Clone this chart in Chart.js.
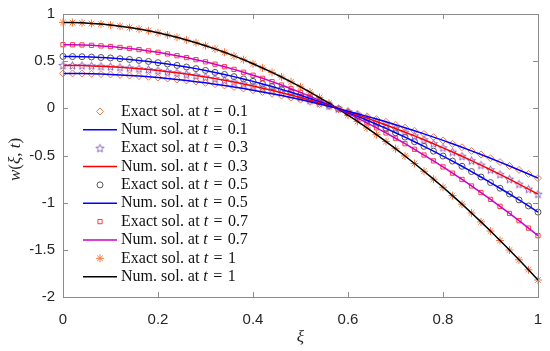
<!DOCTYPE html>
<html>
<head>
<meta charset="utf-8">
<script src="https://cdn.jsdelivr.net/npm/chart.js@4/dist/chart.umd.min.js"></script>
<style>
  html, body { margin: 0; padding: 0; background: #fff; }
  canvas { display: block; }
</style>
</head>
<body>
<canvas id="solChart" width="550" height="351"></canvas>
<script>
// --- data ---
const xi = [0, 0.02, 0.04, 0.06, 0.08, 0.1, 0.12, 0.14, 0.16, 0.18, 0.2, 0.22, 0.24, 0.26, 0.28, 0.3, 0.32, 0.34, 0.36, 0.38,
  0.4, 0.42, 0.44, 0.46, 0.48, 0.5, 0.52, 0.54, 0.56, 0.58, 0.6, 0.62, 0.64, 0.66, 0.68, 0.7, 0.72, 0.74, 0.76, 0.78,
  0.8, 0.82, 0.84, 0.86, 0.88, 0.9, 0.92, 0.94, 0.96, 0.98, 1];

const w_t01 = [0.370, 0.370, 0.368, 0.366, 0.363, 0.359, 0.354, 0.348, 0.342, 0.334, 0.326, 0.316, 0.306, 0.295, 0.283, 0.270, 0.256, 0.242, 0.226, 0.210,
  0.192, 0.174, 0.155, 0.135, 0.114, 0.093, 0.070, 0.046, 0.022, -0.003, -0.030, -0.057, -0.085, -0.114, -0.143, -0.174, -0.205, -0.238, -0.271, -0.305,
  -0.340, -0.376, -0.413, -0.451, -0.490, -0.529, -0.570, -0.611, -0.653, -0.696, -0.740];

const w_t03 = [0.455, 0.454, 0.453, 0.450, 0.446, 0.441, 0.435, 0.428, 0.420, 0.411, 0.400, 0.389, 0.376, 0.363, 0.348, 0.332, 0.315, 0.297, 0.278, 0.258,
  0.237, 0.214, 0.191, 0.166, 0.141, 0.114, 0.086, 0.057, 0.027, -0.004, -0.036, -0.070, -0.104, -0.140, -0.176, -0.214, -0.253, -0.292, -0.333, -0.375,
  -0.419, -0.463, -0.508, -0.555, -0.602, -0.651, -0.700, -0.751, -0.803, -0.856, -0.910];

const w_t05 = [0.550, 0.549, 0.547, 0.544, 0.539, 0.534, 0.526, 0.518, 0.508, 0.497, 0.484, 0.470, 0.455, 0.438, 0.421, 0.402, 0.381, 0.359, 0.336, 0.312,
  0.286, 0.259, 0.231, 0.201, 0.170, 0.138, 0.104, 0.069, 0.033, -0.005, -0.044, -0.084, -0.126, -0.169, -0.213, -0.259, -0.305, -0.354, -0.403, -0.454,
  -0.506, -0.559, -0.614, -0.670, -0.728, -0.787, -0.847, -0.908, -0.971, -1.035, -1.100];

const w_t07 = [0.675, 0.674, 0.672, 0.668, 0.662, 0.655, 0.646, 0.635, 0.623, 0.609, 0.594, 0.577, 0.558, 0.538, 0.516, 0.493, 0.468, 0.441, 0.413, 0.383,
  0.351, 0.318, 0.283, 0.247, 0.208, 0.169, 0.127, 0.085, 0.040, -0.006, -0.054, -0.103, -0.154, -0.207, -0.261, -0.317, -0.375, -0.434, -0.495, -0.557,
  -0.621, -0.687, -0.754, -0.823, -0.893, -0.965, -1.039, -1.114, -1.191, -1.270, -1.350];

const w_t1 = [0.910, 0.909, 0.906, 0.900, 0.893, 0.883, 0.871, 0.856, 0.840, 0.822, 0.801, 0.778, 0.753, 0.725, 0.696, 0.664, 0.630, 0.594, 0.556, 0.516,
  0.473, 0.428, 0.381, 0.332, 0.281, 0.228, 0.172, 0.114, 0.054, -0.008, -0.073, -0.139, -0.208, -0.279, -0.352, -0.428, -0.505, -0.585, -0.667, -0.751,
  -0.837, -0.926, -1.016, -1.109, -1.204, -1.301, -1.401, -1.502, -1.606, -1.712, -1.820];

const tLabels = ['0.1', '0.3', '0.5', '0.7', '1'];
const seriesValues = [w_t01, w_t03, w_t05, w_t07, w_t1];

const lineColors = ['#0000ff', '#ff0000', '#0000ff', '#cc00cc', '#000000'];
const markerColors = ['#f0784f', '#8e5fbf', '#555555', '#ff3c3c', '#f77a45'];

// pentagram marker (not built into Chart.js)
function makePentagram(color) {
  const c = document.createElement('canvas');
  c.width = 11; c.height = 11;
  const g = c.getContext('2d');
  g.strokeStyle = color;
  g.lineWidth = 1;
  g.beginPath();
  for (let i = 0; i < 10; i++) {
    const r = i % 2 === 0 ? 4.2 : 1.9;
    const a = -Math.PI / 2 + i * Math.PI / 5;
    const px = 5.5 + r * Math.cos(a), py = 5.8 + r * Math.sin(a);
    if (i === 0) g.moveTo(px, py); else g.lineTo(px, py);
  }
  g.closePath();
  g.stroke();
  return c;
}

const markerStyles = ['rectRot', makePentagram(markerColors[1]), 'circle', 'rect', 'star'];
const markerRadius = [3.5, 3, 3, 3, 4];

const points = arr => arr.map((v, i) => ({ x: xi[i], y: v }));
const fmtTick = v => String(Number(v.toFixed(2)));

const datasets = [];
seriesValues.forEach((vals, k) => {
  datasets.push({
    label: 'Exact sol. at t = ' + tLabels[k],
    data: points(vals),
    showLine: false,
    pointStyle: markerStyles[k],
    pointRadius: markerRadius[k],
    pointBorderWidth: 1,
    pointBorderColor: markerColors[k],
    pointBackgroundColor: 'rgba(0,0,0,0)',
    order: 1,
    clip: false
  });
  datasets.push({
    label: 'Num. sol. at t = ' + tLabels[k],
    data: points(vals),
    showLine: true,
    borderColor: lineColors[k],
    borderWidth: 1.5,
    pointRadius: 0,
    order: 0,
    clip: false
  });
});

// frame + inward ticks like the original
const framePlugin = {
  id: 'frame',
  afterDatasetsDraw(chart) {
    const { ctx, chartArea: a, scales } = chart;
    ctx.save();
    ctx.strokeStyle = '#8c8c8c';
    ctx.lineWidth = 1;
    ctx.strokeRect(a.left + 0.5, a.top + 0.5, a.right - a.left, a.bottom - a.top);
    ctx.beginPath();
    scales.x.ticks.forEach(t => {
      const px = Math.round(scales.x.getPixelForValue(t.value)) + 0.5;
      ctx.moveTo(px, a.bottom); ctx.lineTo(px, a.bottom - 5);
      ctx.moveTo(px, a.top); ctx.lineTo(px, a.top + 5);
    });
    scales.y.ticks.forEach(t => {
      const py = Math.round(scales.y.getPixelForValue(t.value)) + 0.5;
      ctx.moveTo(a.left, py); ctx.lineTo(a.left + 5, py);
      ctx.moveTo(a.right, py); ctx.lineTo(a.right - 5, py);
    });
    ctx.stroke();
    ctx.restore();
  }
};

// axis titles with italic math symbols
const titlePlugin = {
  id: 'titles',
  afterDraw(chart) {
    const { ctx, chartArea: a } = chart;
    ctx.save();
    ctx.fillStyle = '#262626';
    ctx.textBaseline = 'middle';
    ctx.textAlign = 'center';
    ctx.font = 'italic 17px "Liberation Serif"';
    ctx.fillText('ξ', (a.left + a.right) / 2, 338);

    // y title, rotated
    const parts = [['w', true], ['(', false], ['ξ', true], [', ', false], ['t', true], [')', false]];
    const fontFor = it => (it ? 'italic ' : '') + '17px "Liberation Serif"';
    let total = 0;
    parts.forEach(p => { ctx.font = fontFor(p[1]); total += ctx.measureText(p[0]).width; });
    ctx.translate(16, (a.top + a.bottom) / 2 + 4);
    ctx.rotate(-Math.PI / 2);
    ctx.textAlign = 'left';
    let x = -total / 2;
    parts.forEach(p => {
      ctx.font = fontFor(p[1]);
      ctx.fillText(p[0], x, 0);
      x += ctx.measureText(p[0]).width;
    });
    ctx.restore();
  }
};

// legend drawn inside the axes, no box
const legendPlugin = {
  id: 'insideLegend',
  afterDraw(chart) {
    const { ctx } = chart;
    const x0 = 83, x1 = 117, textX = 121, firstY = 111.5, step = 18.35;
    ctx.save();
    ctx.textBaseline = 'middle';
    let row = 0;
    tLabels.forEach((t, k) => {
      ['Exact sol. at ', 'Num. sol. at '].forEach((prefix, j) => {
        const y = firstY + row * step;
        if (j === 0) {
          ctx.save();
          ctx.strokeStyle = markerColors[k];
          ctx.fillStyle = 'rgba(0,0,0,0)';
          ctx.lineWidth = 1;
          Chart.helpers.drawPoint(ctx, {
            pointStyle: markerStyles[k], radius: markerRadius[k], borderWidth: 1, rotation: 0
          }, 100, y);
          ctx.restore();
        } else {
          ctx.strokeStyle = lineColors[k];
          ctx.lineWidth = 1.5;
          ctx.beginPath();
          ctx.moveTo(x0, y); ctx.lineTo(x1, y);
          ctx.stroke();
        }
        let x = textX;
        ctx.fillStyle = '#111';
        ctx.font = '16px "Liberation Serif"';
        ctx.fillText(prefix, x, y);
        x += ctx.measureText(prefix).width;
        ctx.font = 'italic 16px "Liberation Serif"';
        ctx.fillText('t', x, y);
        x += ctx.measureText('t').width + 1.5;
        ctx.font = '16px "Liberation Serif"';
        ctx.fillText(' = ', x, y);
        x += ctx.measureText(' = ').width + 1.5;
        ctx.fillText(t, x, y);
        row++;
      });
    });
    ctx.restore();
  }
};

new Chart(document.getElementById('solChart'), {
  type: 'scatter',
  data: { datasets: datasets },
  options: {
    responsive: false,
    animation: false,
    devicePixelRatio: 1,
    layout: { padding: { top: 14, right: 12, left: 0, bottom: 0 } },
    plugins: { legend: { display: false }, tooltip: { enabled: false } },
    scales: {
      x: {
        type: 'linear', min: 0, max: 1,
        ticks: { stepSize: 0.2, callback: fmtTick, color: '#262626', font: { family: 'Liberation Sans', size: 15 }, padding: 14, maxRotation: 0 },
        grid: { display: false, drawTicks: false },
        border: { display: false },
        afterFit: s => { s.height = 54; s.paddingLeft = 0; s.paddingRight = 0; }
      },
      y: {
        type: 'linear', min: -2, max: 1,
        ticks: { stepSize: 0.5, callback: fmtTick, color: '#262626', font: { family: 'Liberation Sans', size: 15 }, padding: 8 },
        grid: { display: false, drawTicks: false },
        border: { display: false },
        afterFit: s => { s.width = 63; s.paddingTop = 0; s.paddingBottom = 0; }
      }
    }
  },
  plugins: [framePlugin, titlePlugin, legendPlugin]
});
</script>
</body>
</html>
